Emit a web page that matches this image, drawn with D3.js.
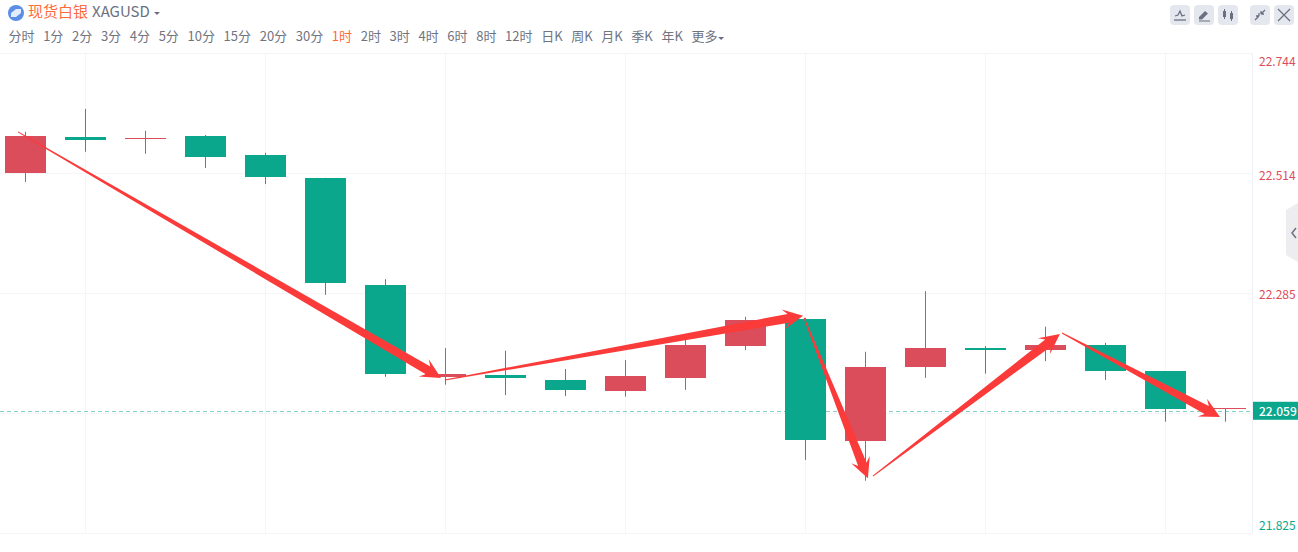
<!DOCTYPE html>
<html>
<head>
<meta charset="utf-8">
<script src="https://cdnjs.cloudflare.com/ajax/libs/d3/7.8.5/d3.min.js"></script>
<style>
  html, body { margin: 0; padding: 0; background: #fff; overflow: hidden; }
  text { font-family: "Noto Sans CJK SC", "Noto Sans", sans-serif; }
</style>
</head>
<body>
<svg id="chart" width="1298" height="552"></svg>
<script>
// values
const periods = ["分时", "1分", "2分", "3分", "4分", "5分", "10分", "15分", "20分", "30分", "1时", "2时", "3时", "4时", "6时", "8时", "12时", "日K", "周K", "月K", "季K", "年K", "更多"];
const activePeriod = "1时";

const opens  = [22.514, 22.583, 22.579, 22.585, 22.549, 22.505, 22.300, 22.124, 22.128, 22.118, 22.097, 22.122, 22.183, 22.235, 22.001, 22.143, 22.179, 22.175, 22.185, 22.135, 22.063];
const closes = [22.585, 22.578, 22.581, 22.545, 22.507, 22.304, 22.130, 22.130, 22.122, 22.099, 22.126, 22.185, 22.233, 22.003, 22.143, 22.179, 22.175, 22.185, 22.135, 22.063, 22.064];
const highs  = [22.593, 22.637, 22.595, 22.587, 22.553, 22.505, 22.311, 22.179, 22.174, 22.139, 22.156, 22.195, 22.239, 22.237, 22.172, 22.288, 22.183, 22.220, 22.189, 22.135, 22.064];
const lows   = [22.497, 22.555, 22.551, 22.524, 22.493, 22.281, 22.124, 22.109, 22.089, 22.087, 22.086, 22.099, 22.175, 21.965, 21.925, 22.122, 22.130, 22.154, 22.118, 22.038, 22.038];

const priceTicks = [22.744, 22.514, 22.285, 22.055, 21.825];
const labelTicks = [22.744, 22.514, 22.285, 21.825];
const lastPrice = 22.059;

// hand drawn arrows on top of the chart, in candle index / price
const arrowFromIndex = [-0.125, 6.99, 12.975, 14.123, 17.275];
const arrowFromPrice = [22.593, 22.118, 22.237, 21.934, 22.208];
const arrowToIndex   = [6.925, 12.96, 14.04, 17.24, 19.908];
const arrowToPrice   = [22.122, 22.241, 21.930, 22.206, 22.047];

const plot = { left: 0, right: 1252, top: 53, bottom: 533 };
const red = "#dc4d5b", green = "#0aa78d", arrowRed = "#fb3a3a";

const svg = d3.select("#chart");

const x = d3.scaleLinear().domain([0, 1]).range([25.5, 85.5]);
const y = d3.scaleLinear().domain([22.744, 21.825]).range([plot.top, plot.bottom]);

// grid
const grid = svg.append("g").attr("stroke", "#f5f5f8").attr("stroke-width", 1);
grid.selectAll(".h").data(priceTicks).enter().append("line")
  .attr("x1", plot.left).attr("x2", plot.right)
  .attr("y1", d => Math.round(y(d)) + 0.5).attr("y2", d => Math.round(y(d)) + 0.5);
grid.selectAll(".v").data(d3.range(1, 21, 3)).enter().append("line")
  .attr("x1", d => Math.floor(x(d)) + 0.5).attr("x2", d => Math.floor(x(d)) + 0.5)
  .attr("y1", plot.top).attr("y2", plot.bottom);
grid.append("line").attr("x1", plot.right + 0.5).attr("x2", plot.right + 0.5)
  .attr("y1", plot.top).attr("y2", plot.bottom).attr("stroke", "#f0f1f6");

// axis labels, the two outer ones sit inside the plot
const axis = svg.append("g").attr("transform", "translate(1259,0)")
  .call(d3.axisRight(y).tickValues(labelTicks).tickSize(0).tickPadding(0).tickFormat(d3.format(".3f")));
axis.select(".domain").remove();
axis.selectAll("text")
  .attr("x", 0)
  .attr("dy", d => d === 22.744 ? "12px" : d === 21.825 ? "-4px" : "6px")
  .attr("font-size", 12)
  .style("font-family", '"Noto Sans CJK SC", "Noto Sans", sans-serif')
  .attr("fill", d => d > lastPrice ? red : green);

// last price line
svg.append("line").attr("x1", plot.left).attr("x2", plot.right)
  .attr("y1", Math.round(y(lastPrice)) + 0.5).attr("y2", Math.round(y(lastPrice)) + 0.5)
  .attr("stroke", "#7fd3c4").attr("stroke-dasharray", "4,3");
svg.append("rect").attr("x", 1253).attr("y", y(lastPrice) - 9).attr("width", 45).attr("height", 18).attr("fill", green);
svg.append("text").attr("x", 1259).attr("y", y(lastPrice) + 5).attr("fill", "#fff")
  .attr("font-size", 12).attr("font-weight", 500).text(d3.format(".3f")(lastPrice));

// candles
const candles = svg.append("g").selectAll("g").data(opens).enter().append("g")
  .attr("fill", (d, i) => closes[i] >= opens[i] ? red : green)
  .attr("stroke", (d, i) => closes[i] >= opens[i] ? red : green);
candles.append("line")
  .attr("x1", (d, i) => Math.floor(x(i)) + 0.5).attr("x2", (d, i) => Math.floor(x(i)) + 0.5)
  .attr("y1", (d, i) => y(highs[i])).attr("y2", (d, i) => y(lows[i]));
candles.append("rect")
  .attr("stroke", "none")
  .attr("x", (d, i) => x(i) - 20.5).attr("width", 41)
  .attr("y", (d, i) => Math.round(y(Math.max(opens[i], closes[i]))))
  .attr("height", (d, i) => Math.max(1, Math.round(Math.abs(y(opens[i]) - y(closes[i])))));

// tapered arrows
function arrowPath(x0, y0, x1, y1) {
  const len = Math.hypot(x1 - x0, y1 - y0), ux = (x1 - x0) / len, uy = (y1 - y0) / len;
  const nx = -uy, ny = ux;
  const neck = len - 15, barb = len - 20;
  const p = (a, b) => [x0 + ux * a + nx * b, y0 + uy * a + ny * b];
  return d3.line()([p(0, 0.5), p(neck, 4.5), p(barb, 10), p(len, 0), p(barb, -10), p(neck, -4.5), p(0, -0.5)]) + "Z";
}
svg.append("g").selectAll("path").data(arrowFromIndex).enter().append("path")
  .attr("fill", arrowRed)
  .attr("d", (d, i) => arrowPath(x(arrowFromIndex[i]), y(arrowFromPrice[i]), x(arrowToIndex[i]), y(arrowToPrice[i])));

// header
const logo = svg.append("g").attr("transform", "translate(16,13)");
logo.append("circle").attr("r", 8).attr("fill", "#5b8ee6");
logo.append("path").attr("d", "M-5,0L0,-4H5L5,0L0,4H-5Z").attr("fill", "#e3ecfb");
svg.append("text").attr("x", 28).attr("y", 17).attr("font-size", 15).attr("fill", "#ff6a3c").text("现货白银");
svg.append("text").attr("x", 92).attr("y", 17).attr("font-size", 15).attr("fill", "#6b7080").text("XAGUSD");
svg.append("path").attr("d", "M154,12h6l-3,3z").attr("fill", "#6b7080");

// period bar, laid out left to right from the text widths
let cursor = 8.5;
svg.append("g").selectAll("text").data(periods).enter().append("text")
  .attr("y", 41).attr("font-size", 13)
  .attr("fill", d => d === activePeriod ? "#ff6a3c" : "#70747f")
  .text(d => d)
  .each(function () {
    d3.select(this).attr("x", cursor);
    cursor += this.getComputedTextLength() + 8.65;
  });
svg.append("path").attr("d", `M${cursor - 8},37h6l-3,3z`).attr("fill", "#6b7080");

// toolbar buttons
const buttonX = [1170, 1194, 1218, 1250, 1274];
const buttons = svg.append("g").selectAll("g").data(buttonX).enter().append("g")
  .attr("transform", d => `translate(${d},5)`);
buttons.append("rect").attr("width", 20).attr("height", 20).attr("rx", 4).attr("fill", "#e5e7ef");
const icons = [
  { d: "M5,11l3,-1l2,-4l2,5l3,-1", stroke: true },
  { d: "M5,12l6,-6l3,2.5l-6,6h-3zM5,15.5h11v1h-11z", stroke: false },
  { d: "M5,6h1v-2h1v2h1v6h-1v2h-1v-2h-1zM12,8h1v-2h1v2h1v6h-1v2h-1v-2h-1z", stroke: false },
  { d: "M5,15l4,-4M9,11v-3M9,11h-3M15,5l-4,4M11,9v-3M11,9h3", stroke: true },
  { d: "M4,4l12,12M16,4l-12,12", stroke: true }
];
buttons.append("path").attr("d", (d, i) => icons[i].d)
  .attr("fill", (d, i) => icons[i].stroke ? "none" : "#6b7080")
  .attr("stroke", (d, i) => icons[i].stroke ? "#6b7080" : "none")
  .attr("stroke-width", 1.3);
svg.append("line").attr("x1", 1174).attr("x2", 1186).attr("y1", 20).attr("y2", 20)
  .attr("stroke", "#6b7080").attr("stroke-width", 1.3);

// side tab
svg.append("path").attr("d", "M1298,203L1286,210V255L1298,262Z").attr("fill", "#ededf0");
svg.append("path").attr("d", "M1296,228l-4,5l4,5").attr("fill", "none").attr("stroke", "#6b7080").attr("stroke-width", 1.5);
</script>
</body>
</html>
